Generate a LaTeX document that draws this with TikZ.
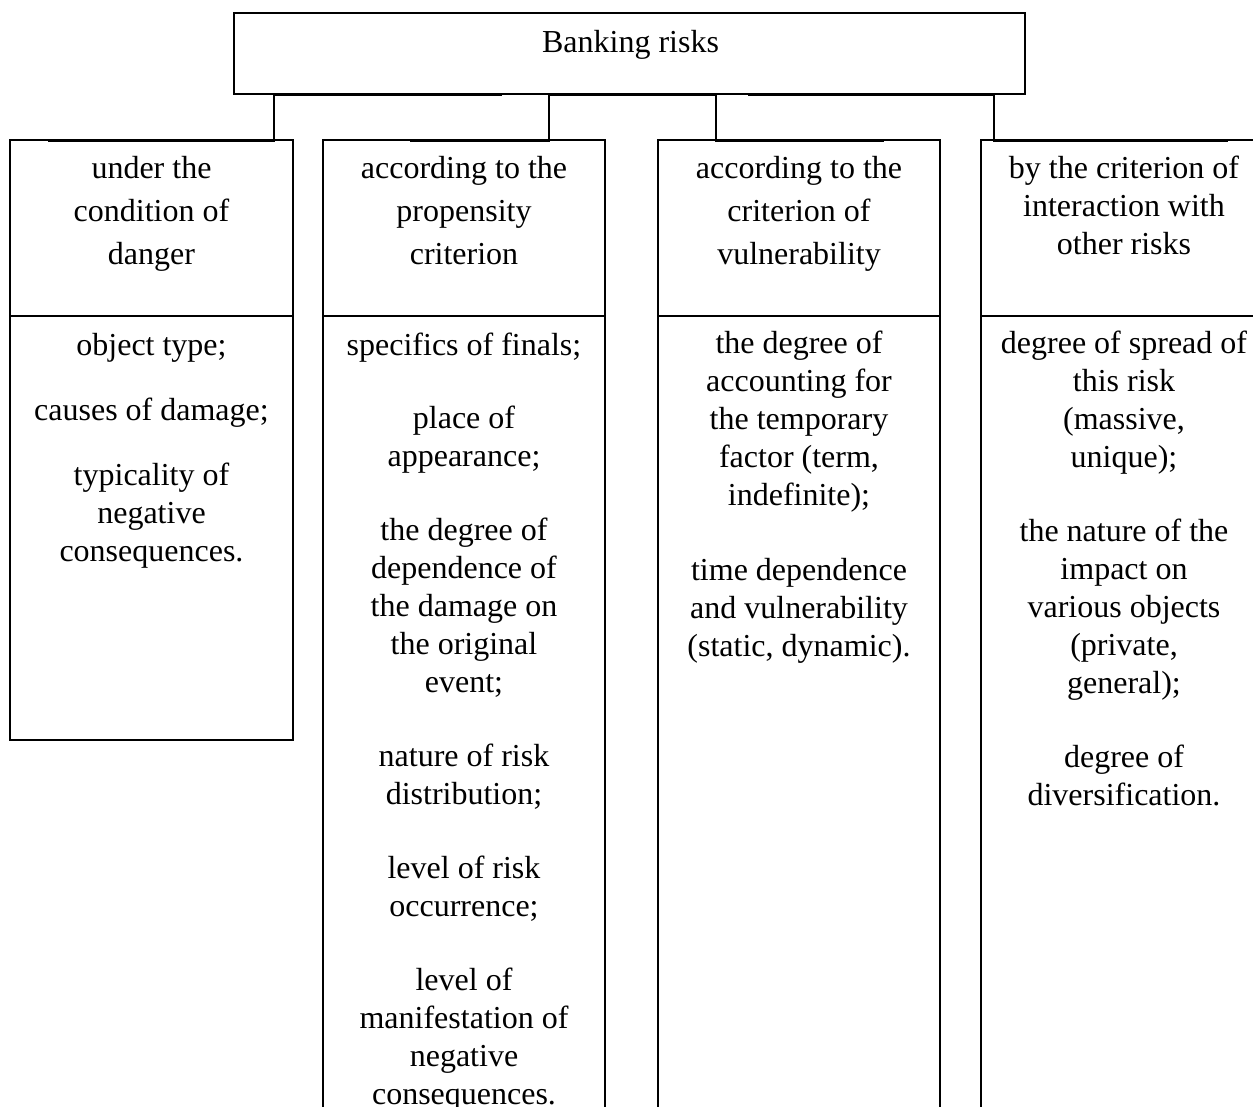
\documentclass[tikz,border=0pt]{standalone}
\usepackage{fontspec}
\setmainfont{Liberation Serif}

\begin{document}
\begin{tikzpicture}[x=1pt, y=-1pt,
	box/.style={draw, line width=1.2pt, outer sep=0pt, inner sep=0pt},
	link/.style={line width=1.1pt},
	head/.style={anchor=north, align=center, inner sep=0pt, font=\fontsize{32}{43}\selectfont},
	body/.style={anchor=north, align=center, inner sep=0pt, font=\fontsize{32}{38}\selectfont}]

		\useasboundingbox (0, 0) rectangle (1253, 1106);
		\clip (0, 0) rectangle (1253, 1106);

		\node[box, minimum width=791pt, minimum height=81pt] (banking) at (629.5, 53.5) {};
		\node[anchor=base, inner sep=0pt, font=\fontsize{32}{38}\selectfont] (bankingtext) at (630.5, 52) {Banking risks};

		% criteria
		\node[box, minimum width=283pt, minimum height=176pt] (danger) at (151.5, 228) {};
		\node[box, minimum width=282pt, minimum height=176pt] (propensity) at (464, 228) {};
		\node[box, minimum width=282pt, minimum height=176pt] (vulner) at (799, 228) {};
		\node[box, minimum width=286pt, minimum height=176pt] (interact) at (1124, 228) {};

		\node[head] (dangertext) at (151.5, 148) {\strut under the\\condition of\\danger};
		\node[head] (propensitytext) at (464, 148) {\strut according to the\\propensity\\criterion};
		\node[head] (vulnertext) at (799, 148) {\strut according to the\\criterion of\\vulnerability};
		\node[head, font=\fontsize{32}{38}\selectfont] (interacttext) at (1124, 151.4) {\strut by the criterion of\\interaction with\\other risks};

		% features
		\node[box, minimum width=283pt, minimum height=424pt] (dangerlist) at (151.5, 528) {};
		\node[box, minimum width=282pt, minimum height=804pt] (propensitylist) at (464, 718) {};
		\node[box, minimum width=282pt, minimum height=804pt] (vulnerlist) at (799, 718) {};
		\node[box, minimum width=286pt, minimum height=804pt] (interactlist) at (1124, 718) {};

		\node[body] (dangeritems) at (151.5, 328.4) {\strut object type;\\[27pt]causes of damage;\\[27pt]typicality of\\negative\\consequences.};
		\node[body] (propensityitems) at (464, 328.4) {\strut specifics of finals;\\[35pt]place of\\appearance;\\[36pt]the degree of\\dependence of\\the damage on\\the original\\event;\\[36pt]nature of risk\\distribution;\\[36pt]level of risk\\occurrence;\\[36pt]level of\\manifestation of\\negative\\consequences.};
		\node[body] (vulneritems) at (799, 326.4) {\strut the degree of\\accounting for\\the temporary\\factor (term,\\indefinite);\\[37pt]time dependence\\and vulnerability\\(static, dynamic).};
		\node[body] (interactitems) at (1124, 326.4) {\strut degree of spread of\\this risk\\(massive,\\unique);\\[36pt]the nature of the\\impact on\\various objects\\(private,\\general);\\[36pt]degree of\\diversification.};

		\draw[link] ([shift={(-127.5pt,-1pt)}]banking.south) -| ([shift={(122.5pt,-1pt)}]danger.north) -- ([shift={(-103.5pt,-1pt)}]danger.north);
		\draw[link] ([shift={(87.5pt,-1pt)}]banking.south) -| ([shift={(85pt,-1pt)}]propensity.north) -- ([shift={(-54pt,-1pt)}]propensity.north);
		\draw[link] ([shift={(-79.5pt,-1pt)}]banking.south) -| ([shift={(-83pt,-1pt)}]vulner.north) -- ([shift={(85pt,-1pt)}]vulner.north);
		\draw[link] ([shift={(118.5pt,-1pt)}]banking.south) -| ([shift={(-130pt,-1pt)}]interact.north) -- ([shift={(104pt,-1pt)}]interact.north);

	\end{tikzpicture}
\end{document}
